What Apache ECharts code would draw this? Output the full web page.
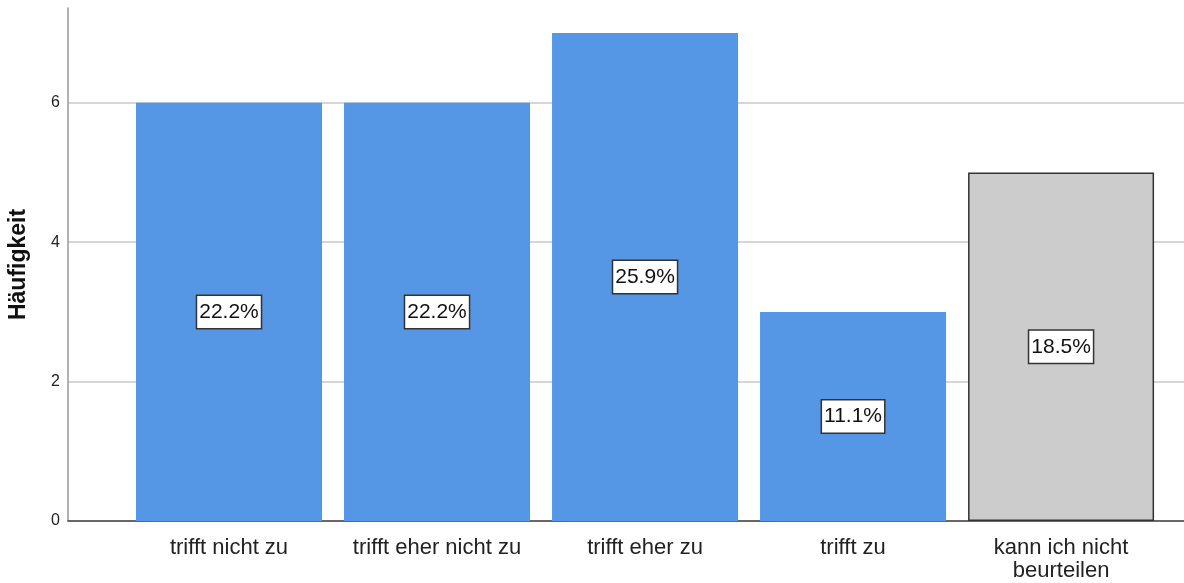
<!DOCTYPE html>
<html>
<head>
<meta charset="utf-8">
<script src="https://cdn.jsdelivr.net/npm/echarts@6/dist/echarts.min.js"></script>
<style>
  html, body { margin: 0; padding: 0; background: #fff; }
  #chart { width: 1184px; height: 583px; }
</style>
</head>
<body>
<div id="chart"></div>
<script>
// Daten aus der Abbildung
const categories = ['trifft nicht zu', 'trifft eher nicht zu', 'trifft eher zu', 'trifft zu', 'kann ich nicht\nbeurteilen']
const counts = [6, 6, 7, 3, 5]
const percents = ['22.2%', '22.2%', '25.9%', '11.1%', '18.5%']
const yTicks = [0, 2, 4, 6]

const chart = echarts.init(document.getElementById('chart'))

const blue = '#5596e5'
const gray = '#cccccc'
const font = 'Liberation Sans, Arial, sans-serif'

const barData = counts.map((v, i) => {
  const last = i === counts.length - 1
  return {
    value: [i, v],
    itemStyle: last
      ? { color: gray, borderColor: '#333', borderWidth: 1.5 }
      : { color: blue }
  }
})

const option = {
  animation: false,
  grid: { left: 68, right: 0, top: 8, bottom: 62, containLabel: false, outerBoundsMode: 'none' },
  xAxis: {
    type: 'value',
    min: -0.774,
    max: 4.591,
    splitLine: { show: false },
    axisLine: { show: true, lineStyle: { color: '#444', width: 1.5 } },
    axisTick: { show: false },
    axisLabel: {
      customValues: [0, 1, 2, 3, 4],
      formatter: v => categories[Math.round(v)] || '',
      fontFamily: font,
      fontSize: 22,
      color: '#222',
      lineHeight: 23,
      margin: 15,
      verticalAlign: 'top'
    }
  },
  yAxis: {
    type: 'value',
    min: 0,
    max: 7.36,
    interval: 2,
    name: 'Häufigkeit',
    nameLocation: 'middle',
    nameGap: 38,
    nameTextStyle: {
      fontFamily: font,
      fontSize: 23,
      fontWeight: 'bold',
      color: '#111'
    },
    axisLine: { show: true, onZero: false, lineStyle: { color: '#999', width: 1.5 } },
    axisTick: { show: false },
    axisLabel: {
      customValues: yTicks,
      fontFamily: font,
      fontSize: 16,
      color: '#222',
      margin: 8
    },
    splitLine: {
      show: true,
      showMaxLine: false,
      lineStyle: { color: '#c8c8c8', width: 1.5 }
    }
  },
  series: [{
    type: 'bar',
    barWidth: 186,
    data: barData,
    label: {
      show: true,
      position: 'inside',
      formatter: p => percents[p.dataIndex],
      fontFamily: font,
      fontSize: 21,
      color: '#111',
      backgroundColor: '#fff',
      borderColor: '#333',
      borderWidth: 1.5,
      padding: [6, 2, 5, 2]
    }
  }]
}

chart.setOption(option)
</script>
</body>
</html>
